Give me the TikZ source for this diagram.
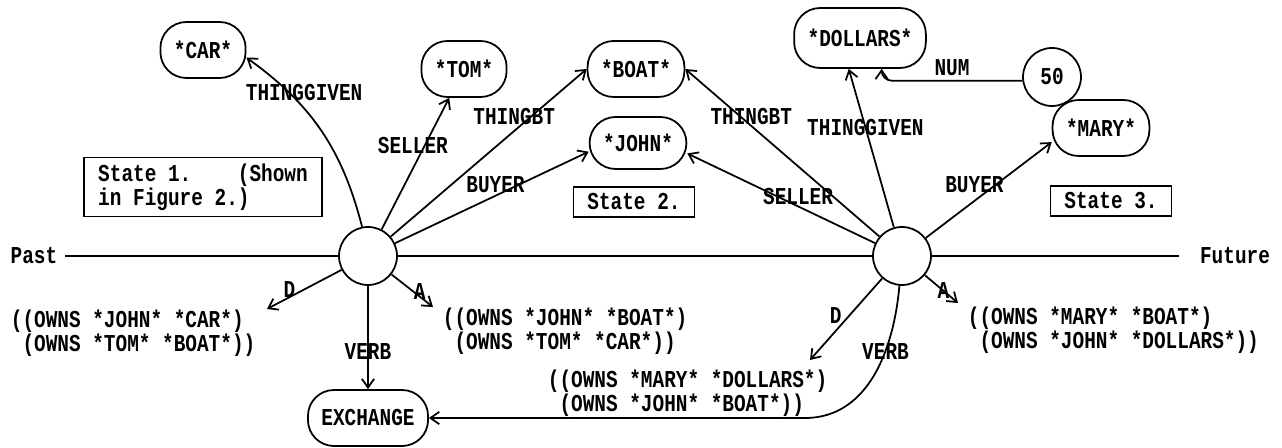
\documentclass[tikz,border=0pt]{standalone}
\usepackage{fontspec}
\setmonofont{Liberation Mono}[FakeStretch=0.8]
\usetikzlibrary{arrows.meta}
\tikzset{
  concept/.style={draw, rounded corners=0.52cm, minimum height=1.12cm, inner xsep=0.27cm},
  event/.style={draw, circle, minimum size=1.16cm, inner sep=0pt},
  statebox/.style={draw, inner xsep=0.28cm, minimum height=0.6cm},
  facts/.style={align=left, anchor=north west, inner sep=0pt},
}

\begin{document}
\begin{tikzpicture}[x=0.02cm, y=-0.02cm, line width=1pt,
  >={Straight Barb[length=5pt,width=7pt]},
  font=\ttfamily\bfseries\fontsize{13.8}{13.6}\selectfont]
\useasboundingbox (0,0) rectangle (1282,448);

\node[concept] (car) at (203,50) {*CAR*};
\node[concept] (tom) at (464,69) {*TOM*};
\node[concept] (boat) at (636,69) {*BOAT*};
\node[concept, minimum height=1.04cm] (john) at (638,143) {*JOHN*};
\node[concept, minimum height=1.2cm] (dollars) at (860,38) {*DOLLARS*};
\node[event] (fifty) at (1052,77) {50};
\node[concept] (mary) at (1101,128) {*MARY*};
\node[concept] (ex) at (368,418) {EXCHANGE};
\node[event] (c1) at (368,256) {};
\node[event] (c2) at (902,256) {};
\node[statebox, align=left, font=\ttfamily\bfseries\fontsize{13.8}{12.5}\selectfont] (st1) at (203,187) {State 1.\ \ \ \ (Shown\\in Figure 2.)};
\node[statebox] (st2) at (634,202) {State 2.};
\node[statebox] (st3) at (1111,201) {State 3.};
\node[inner sep=0pt] (past) at (34,256) {Past};
\node[inner sep=0pt] (future) at (1235,256) {Future};
\node[facts] (was1) at (10,309) {((OWNS *JOHN* *CAR*)\\\hphantom{(}(OWNS *TOM* *BOAT*))};
\node[facts] (now1) at (442,307) {((OWNS *JOHN* *BOAT*)\\\hphantom{(}(OWNS *TOM* *CAR*))};
\node[facts] (was2) at (547,369) {((OWNS *MARY* *DOLLARS*)\\\hphantom{(}(OWNS *JOHN* *BOAT*))};
\node[facts] (now2) at (967,306) {((OWNS *MARY* *BOAT*)\\\hphantom{(}(OWNS *JOHN* *DOLLARS*))};

\coordinate (d1) at (267,309);
\coordinate (a1) at (433,307);
\coordinate (d2) at (810,360);
\coordinate (a2) at (958,303);
\coordinate (vb) at (805,418);

% time line
\draw[shorten <=0.14cm] (past) -- (c1);
\draw (c1) -- (c2);
\draw[shorten >=0.4cm] (c2) -- (future);

\path[->]
(c1) edge[bend right=20] node[pos=.75, xshift=0.3cm] {THINGGIVEN} (car.-10)
(c1) edge node[pos=.64, xshift=-0.24cm] {SELLER} (tom)
(c1) edge node[pos=.63, yshift=0.28cm] {THINGBT} (boat.west)
(c1) edge node[pos=.55, xshift=-0.12cm, yshift=0.16cm] {BUYER} (john.190)
(c1) edge node[pos=.7, yshift=0.16cm] {D} (d1)
(c1) edge node[pos=.68, yshift=0.1cm] {A} (a1)
(c1) edge node[pos=.64] {VERB} (ex)
(c2) edge node[pos=.66, yshift=0.18cm] {THINGBT} (boat.east)
(c2) edge node[pos=.41, yshift=0.2cm] {SELLER} (john.-12)
(c2) edge node[pos=.63] {THINGGIVEN} (dollars.250)
(c2) edge node[pos=.45, xshift=-0.16cm, yshift=0.2cm] {BUYER} (mary.196)
(c2) edge node[pos=.45, xshift=-0.28cm] {D} (d2)
(c2) edge node[pos=.56] {A} (a2);
\draw[->, rounded corners=0.2cm] (fifty.187) -| node[pos=.25, above=-1pt] {NUM} (dollars.-55);
\draw[->] (c2) to[out=-95, in=0] node[pos=.35] {VERB} (vb) -- (ex);
\end{tikzpicture}
\end{document}
